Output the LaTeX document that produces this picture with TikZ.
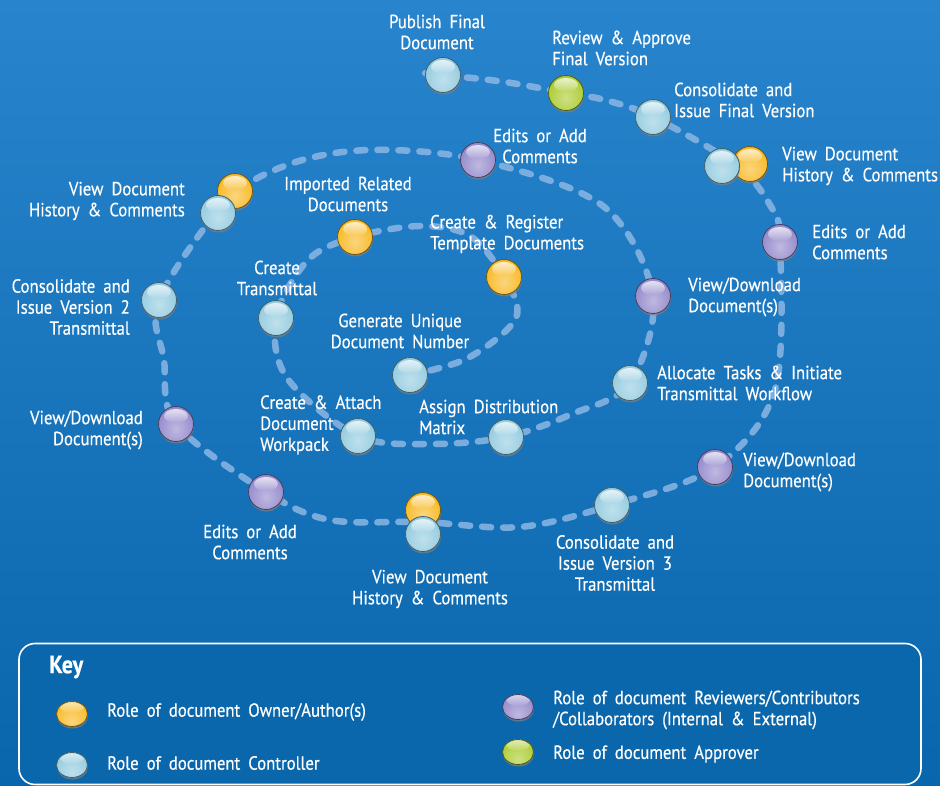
\documentclass[tikz,border=0pt]{standalone}
\usepackage{fontspec}
\setmainfont[FakeStretch=0.88,WordSpace=1.8,FakeBold=0.4]{PT Sans}
\usetikzlibrary{shadows,shapes.geometric}
\definecolor{bgtop}{RGB}{40,132,204}
\definecolor{bgmid}{RGB}{17,116,186}
\definecolor{bgbot}{RGB}{9,102,172}
\definecolor{keyfill}{RGB}{11,103,172}
\definecolor{pathc}{RGB}{140,182,228}
\definecolor{cown}{RGB}{248,186,38}
\definecolor{cctl}{RGB}{148,204,224}
\definecolor{crev}{RGB}{148,138,204}
\definecolor{capp}{RGB}{172,204,50}
\begin{document}
\begin{tikzpicture}[x=1pt,y=-1pt,
  ball/.style={circle,minimum size=35pt,inner sep=0pt,fill=#1,
    draw=#1!45!black,line width=0.8pt,
    drop shadow={shadow xshift=0.5pt,shadow yshift=-2pt,opacity=0.7},
    path picture={
      \shade[inner color=#1!60!white,outer color=#1] ([yshift=-7pt]path picture bounding box.center) circle (20pt);
      \shade[top color=white,bottom color=#1!80!white,opacity=0.75] ([yshift=8pt]path picture bounding box.center) ellipse (12pt and 7pt);
    }},
  keyball/.style={ball=#1,ellipse,minimum width=31pt,minimum height=25pt},
  lbl/.style={text=white,font=\fontsize{19}{21}\selectfont,inner sep=0pt},
  keytxt/.style={text=white,font=\fontsize{19}{21}\selectfont,inner sep=0pt,anchor=west,align=left},
  spiral/.style={pathc,opacity=0.85,line width=6.5pt,line cap=round,dash pattern=on 9pt off 12pt}
]
\useasboundingbox (0,0) rectangle (940,786);
\shade[top color=bgtop,middle color=bgmid,bottom color=bgbot] (0,0) rectangle (940,786);

% intermediate coordinates of the spiral
\coordinate (p1) at (468,358);
\coordinate (p2) at (516,318);
\coordinate (p3) at (470,236);
\coordinate (p4) at (420,226);
\coordinate (p5) at (308,260);
\coordinate (p6) at (287,378);
\coordinate (p7) at (432,444);
\coordinate (p8) at (572,414);
\coordinate (p9) at (603,206);
\coordinate (p10) at (370,150);
\coordinate (p11) at (290,164);
\coordinate (p12) at (164,360);
\coordinate (p13) at (330,520);
\coordinate (p14) at (520,527);
\coordinate (p15) at (775,390);
\coordinate (p16) at (770,205);
\coordinate (p17) at (605,100);
\coordinate (p18) at (505,82);
\coordinate (pend) at (424,73);

% ball positions
\path
 (410,375) coordinate (cGen)
 (504,277) coordinate (cReg)
 (355,237) coordinate (cImp)
 (276,318) coordinate (cCTr)
 (358,436) coordinate (cAtt)
 (506,437) coordinate (cAsg)
 (630,383) coordinate (cAlc)
 (653,296) coordinate (cVD1)
 (478,160) coordinate (cEd1)
 (226,202) coordinate (cVH1)
 (159,300) coordinate (cCv2)
 (176,424) coordinate (cVD2)
 (266,492) coordinate (cEd2)
 (423,522) coordinate (cVH2)
 (612,505) coordinate (cCv3)
 (715,467) coordinate (cVD3)
 (780,242) coordinate (cEd3)
 (736,165) coordinate (cVH3)
 (653,117) coordinate (cCfin)
 (566,93) coordinate (cRev)
 (443,75) coordinate (cPub);

\draw[spiral] plot[smooth,tension=0.55] coordinates {
 (cGen) (p1) (p2) (cReg) (p3) (p4) (cImp) (p5) (cCTr) (p6) (cAtt) (p7) (cAsg) (p8) (cAlc)
 (cVD1) (p9) (cEd1) (p10) (p11) (cVH1) (cCv2) (p12) (cVD2) (cEd2) (p13) (cVH2) (p14)
 (cCv3) (cVD3) (p15) (cEd3) (p16) (cVH3) (cCfin) (p17) (cRev) (p18) (cPub) (pend)};

% balls
\node[ball=cctl] (bGen) at (cGen) {};
\node[ball=cown] (bReg) at (cReg) {};
\node[ball=cown] (bImp) at (cImp) {};
\node[ball=cctl] (bCTr) at (cCTr) {};
\node[ball=cctl] (bAtt) at (cAtt) {};
\node[ball=cctl] (bAsg) at (cAsg) {};
\node[ball=cctl] (bAlc) at (cAlc) {};
\node[ball=crev] (bVD1) at (cVD1) {};
\node[ball=crev] (bEd1) at (cEd1) {};
\node[ball=cown] (bVH1o) at (235,191) {};
\node[ball=cctl] (bVH1) at (218,213) {};
\node[ball=cctl] (bCv2) at (cCv2) {};
\node[ball=crev] (bVD2) at (cVD2) {};
\node[ball=crev] (bEd2) at (cEd2) {};
\node[ball=cown] (bVH2o) at (423,510) {};
\node[ball=cctl] (bVH2) at (423,534) {};
\node[ball=cctl] (bCv3) at (cCv3) {};
\node[ball=crev] (bVD3) at (cVD3) {};
\node[ball=crev] (bEd3) at (cEd3) {};
\node[ball=cown] (bVH3o) at (750,164) {};
\node[ball=cctl] (bVH3) at (722,166) {};
\node[ball=cctl] (bCfin) at (cCfin) {};
\node[ball=capp] (bRev) at (cRev) {};
\node[ball=cctl] (bPub) at (cPub) {};

% labels
\node[lbl,align=center] (tGen) at (400,331) {Generate Unique\\Document Number};
\node[lbl,align=left,anchor=west] (tReg) at (430,234) {Create \& Register\\Template Documents};
\node[lbl,align=center] (tImp) at (348,194) {Imported Related\\Documents};
\node[lbl,align=center] (tCTr) at (277,278) {Create\\Transmittal};
\node[lbl,align=left,anchor=west] (tAtt) at (260,425) {Create \& Attach\\Document\\Workpack};
\node[lbl,align=left,anchor=west] (tAsg) at (419,417) {Assign Distribution\\Matrix};
\node[lbl,align=left,anchor=west] (tAlc) at (657,383) {Allocate Tasks \& Initiate\\Transmittal Workflow};
\node[lbl,align=left,anchor=west] (tVD1) at (688,297) {View/Download\\Document(s)};
\node[lbl,align=center] (tEd1) at (540,146) {Edits or Add\\Comments};
\node[lbl,align=right,anchor=east] (tVH1) at (185,201) {View Document\\History \& Comments};
\node[lbl,align=right,anchor=east] (tCv2) at (130,307) {Consolidate and\\Issue Version 2\\Transmittal};
\node[lbl,align=right,anchor=east] (tVD2) at (143,430) {View/Download\\Document(s)};
\node[lbl,align=center] (tEd2) at (250,542) {Edits or Add\\Comments};
\node[lbl,align=center] (tVH2) at (430,589) {View Document\\History \& Comments};
\node[lbl,align=center] (tCv3) at (615,563) {Consolidate and\\Issue Version 3\\Transmittal};
\node[lbl,align=left,anchor=west] (tVD3) at (743,472) {View/Download\\Document(s)};
\node[lbl,align=left,anchor=west] (tEd3) at (812,242) {Edits or Add\\Comments};
\node[lbl,align=left,anchor=west] (tVH3) at (782,166) {View Document\\History \& Comments};
\node[lbl,align=left,anchor=west] (tCfin) at (674,100) {Consolidate and\\Issue Final Version};
\node[lbl,align=left,anchor=west] (tRev) at (552,48) {Review \& Approve\\Final Version};
\node[lbl,align=center] (tPub) at (437,32) {Publish Final\\Document};

% key
\node[draw=white,line width=1.6pt,fill=keyfill,rounded corners=16pt,minimum width=902pt,minimum height=141pt,inner sep=0pt] (key) at (470,714) {};
\node[text=white,font=\fontsize{25}{28}\selectfont\bfseries,anchor=west,inner sep=0pt] (tKey) at (49,667) {Key};
\node[keyball=cown] (kOwn) at (72,714) {};
\node[keyball=cctl] (kCtl) at (72,765) {};
\node[keyball=crev] (kRev) at (518,707) {};
\node[keyball=capp] (kApp) at (518,752) {};
\node[keytxt] (tOwn) at (107,712) {Role of document Owner/Author(s)};
\node[keytxt] (tCtl) at (107,763) {Role of document Controller};
\node[keytxt] (tRevk) at (553,710) {Role of document Reviewers/Contributors\\/Collaborators (Internal \& External)};
\node[keytxt] (tApp) at (553,754) {Role of document Approver};
\end{tikzpicture}
\end{document}
